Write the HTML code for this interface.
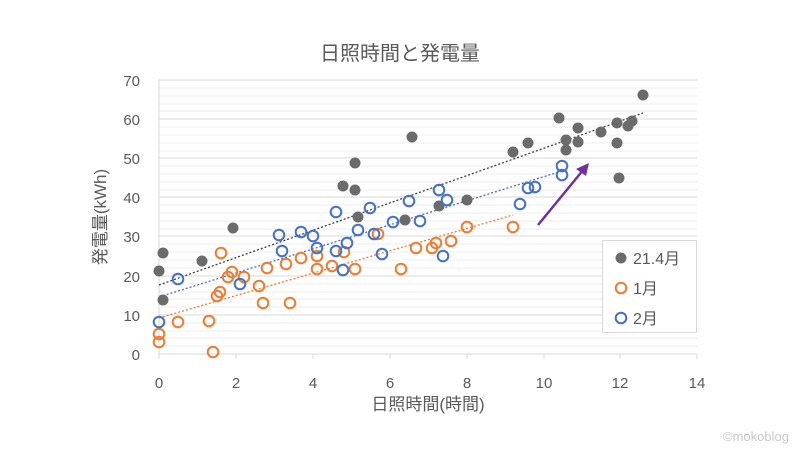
<!DOCTYPE html>
<html><head><meta charset="utf-8"><style>
body{margin:0;background:#fff;}
svg{display:block;font-family:"Liberation Sans","Noto Sans CJK JP",sans-serif;}
</style></head><body>
<svg width="800" height="450" viewBox="0 0 800 450" xmlns="http://www.w3.org/2000/svg">
<rect width="800" height="450" fill="#fff"/>
<text x="400" y="60" text-anchor="middle" font-size="20" fill="#595959">日照時間と発電量</text>
<g stroke="#ececec" stroke-width="1">
<line x1="159" x2="697" y1="88" y2="88"/><line x1="159" x2="697" y1="96" y2="96"/><line x1="159" x2="697" y1="104" y2="104"/><line x1="159" x2="697" y1="111" y2="111"/>
<line x1="159" x2="697" y1="127" y2="127"/><line x1="159" x2="697" y1="135" y2="135"/><line x1="159" x2="697" y1="143" y2="143"/><line x1="159" x2="697" y1="151" y2="151"/>
<line x1="159" x2="697" y1="166" y2="166"/><line x1="159" x2="697" y1="174" y2="174"/><line x1="159" x2="697" y1="182" y2="182"/><line x1="159" x2="697" y1="190" y2="190"/>
<line x1="159" x2="697" y1="205" y2="205"/><line x1="159" x2="697" y1="213" y2="213"/><line x1="159" x2="697" y1="221" y2="221"/><line x1="159" x2="697" y1="229" y2="229"/>
<line x1="159" x2="697" y1="244" y2="244"/><line x1="159" x2="697" y1="252" y2="252"/><line x1="159" x2="697" y1="260" y2="260"/><line x1="159" x2="697" y1="268" y2="268"/>
<line x1="159" x2="697" y1="284" y2="284"/><line x1="159" x2="697" y1="292" y2="292"/><line x1="159" x2="697" y1="299" y2="299"/><line x1="159" x2="697" y1="307" y2="307"/>
<line x1="159" x2="697" y1="323" y2="323"/><line x1="159" x2="697" y1="331" y2="331"/><line x1="159" x2="697" y1="338" y2="338"/><line x1="159" x2="697" y1="346" y2="346"/>
</g>
<g stroke="#d9d9d9" stroke-width="1">
<line x1="159" x2="697" y1="80" y2="80"/><line x1="159" x2="697" y1="119" y2="119"/><line x1="159" x2="697" y1="158" y2="158"/><line x1="159" x2="697" y1="197" y2="197"/>
<line x1="159" x2="697" y1="236" y2="236"/><line x1="159" x2="697" y1="276" y2="276"/><line x1="159" x2="697" y1="315" y2="315"/><line x1="159" x2="697" y1="354" y2="354"/>
<line x1="159" x2="159" y1="80" y2="359"/>
<line x1="236" x2="236" y1="354" y2="359"/><line x1="313" x2="313" y1="354" y2="359"/><line x1="390" x2="390" y1="354" y2="359"/><line x1="467" x2="467" y1="354" y2="359"/><line x1="544" x2="544" y1="354" y2="359"/><line x1="620" x2="620" y1="354" y2="359"/><line x1="697" x2="697" y1="354" y2="359"/>
</g>
<g font-size="15" fill="#595959" text-anchor="end">
<text x="140" y="86">70</text><text x="140" y="125">60</text><text x="140" y="164">50</text><text x="140" y="203">40</text><text x="140" y="242">30</text><text x="140" y="282">20</text><text x="140" y="321">10</text><text x="140" y="360">0</text>
</g>
<g font-size="15" fill="#595959" text-anchor="middle">
<text x="159" y="388">0</text><text x="236" y="388">2</text><text x="313" y="388">4</text><text x="390" y="388">6</text><text x="467" y="388">8</text><text x="544" y="388">10</text><text x="620" y="388">12</text><text x="697" y="388">14</text>
</g>
<text x="428" y="410" text-anchor="middle" font-size="17" fill="#595959">日照時間(時間)</text>
<text transform="translate(106,217) rotate(-90)" text-anchor="middle" font-size="17" fill="#595959">発電量(kWh)</text>
<g stroke-dasharray="2,2" stroke-width="1.3">
<line x1="159" y1="285" x2="643" y2="113" stroke="#404040"/>
<line x1="159" y1="297" x2="562" y2="171" stroke="#4472c4"/>
<line x1="159" y1="318" x2="513" y2="215" stroke="#ed7d31"/>
</g>
<g fill="#6b6b6b">
<circle cx="159" cy="271" r="5.5"/><circle cx="163" cy="253" r="5.5"/><circle cx="163" cy="300" r="5.5"/><circle cx="202" cy="261" r="5.5"/><circle cx="233" cy="228" r="5.5"/>
<circle cx="355" cy="163" r="5.5"/><circle cx="343" cy="186" r="5.5"/><circle cx="355" cy="190" r="5.5"/><circle cx="358" cy="217" r="5.5"/><circle cx="405" cy="220" r="5.5"/>
<circle cx="412" cy="137" r="5.5"/><circle cx="513" cy="152" r="5.5"/><circle cx="528" cy="143" r="5.5"/><circle cx="559" cy="118" r="5.5"/><circle cx="578" cy="128" r="5.5"/>
<circle cx="566" cy="140" r="5.5"/><circle cx="566" cy="150" r="5.5"/><circle cx="578" cy="142" r="5.5"/><circle cx="601" cy="132" r="5.5"/><circle cx="617" cy="123" r="5.5"/>
<circle cx="628" cy="126" r="5.5"/><circle cx="632" cy="121" r="5.5"/><circle cx="643" cy="95" r="5.5"/><circle cx="617" cy="143" r="5.5"/><circle cx="619" cy="178" r="5.5"/>
<circle cx="467" cy="200" r="5.5"/><circle cx="439" cy="206" r="5.5"/>
</g>
<g fill="none" stroke="#ed7d31" stroke-width="2">
<circle cx="159" cy="334" r="5.3"/><circle cx="159" cy="342" r="5.3"/><circle cx="178" cy="322" r="5.3"/><circle cx="209" cy="321" r="5.3"/><circle cx="213" cy="352" r="5.3"/>
<circle cx="217" cy="296" r="5.3"/><circle cx="220" cy="292" r="5.3"/><circle cx="221" cy="253" r="5.3"/><circle cx="228" cy="277" r="5.3"/><circle cx="232" cy="272" r="5.3"/>
<circle cx="244" cy="277" r="5.3"/><circle cx="259" cy="286" r="5.3"/><circle cx="263" cy="303" r="5.3"/><circle cx="267" cy="268" r="5.3"/><circle cx="286" cy="264" r="5.3"/>
<circle cx="290" cy="303" r="5.3"/><circle cx="301" cy="258" r="5.3"/><circle cx="317" cy="256" r="5.3"/><circle cx="317" cy="269" r="5.3"/><circle cx="332" cy="266" r="5.3"/>
<circle cx="344" cy="252" r="5.3"/><circle cx="355" cy="269" r="5.3"/><circle cx="378" cy="234" r="5.3"/><circle cx="401" cy="269" r="5.3"/><circle cx="416" cy="248" r="5.3"/>
<circle cx="432" cy="248" r="5.3"/><circle cx="436" cy="243" r="5.3"/><circle cx="451" cy="241" r="5.3"/><circle cx="467" cy="227" r="5.3"/><circle cx="513" cy="227" r="5.3"/>
</g>
<g fill="none" stroke="#4472c4" stroke-width="2">
<circle cx="159" cy="322" r="5.3"/><circle cx="178" cy="279" r="5.3"/><circle cx="240" cy="284" r="5.3"/><circle cx="279" cy="235" r="5.3"/><circle cx="282" cy="251" r="5.3"/>
<circle cx="301" cy="232" r="5.3"/><circle cx="313" cy="236" r="5.3"/><circle cx="317" cy="248" r="5.3"/><circle cx="336" cy="212" r="5.3"/><circle cx="336" cy="251" r="5.3"/>
<circle cx="343" cy="270" r="5.3"/><circle cx="347" cy="243" r="5.3"/><circle cx="358" cy="230" r="5.3"/><circle cx="370" cy="208" r="5.3"/><circle cx="374" cy="234" r="5.3"/>
<circle cx="382" cy="254" r="5.3"/><circle cx="393" cy="222" r="5.3"/><circle cx="409" cy="201" r="5.3"/><circle cx="420" cy="221" r="5.3"/><circle cx="439" cy="190" r="5.3"/>
<circle cx="447" cy="200" r="5.3"/><circle cx="443" cy="256" r="5.3"/><circle cx="520" cy="204" r="5.3"/><circle cx="528" cy="188" r="5.3"/><circle cx="535" cy="187" r="5.3"/>
<circle cx="562" cy="166" r="5.3"/><circle cx="562" cy="175" r="5.3"/>
</g>
<line x1="538" y1="225" x2="584" y2="169" stroke="#7030a0" stroke-width="2.5"/>
<polygon points="589,163 576,169 586,176" fill="#7030a0"/>
<rect x="602.5" y="240.5" width="94" height="92" fill="#fff" stroke="#d9d9d9"/>
<circle cx="621" cy="258" r="5.5" fill="#6b6b6b"/>
<circle cx="621" cy="288" r="5.3" fill="none" stroke="#ed7d31" stroke-width="2"/>
<circle cx="621" cy="318" r="5.3" fill="none" stroke="#4472c4" stroke-width="2"/>
<g font-size="16" fill="#595959">
<text x="633" y="264">21.4月</text><text x="633" y="294">1月</text><text x="633" y="324">2月</text>
</g>
<text x="789" y="441" text-anchor="end" font-size="13" fill="#c8c8c8">©mokoblog</text>
</svg>
</body></html>
